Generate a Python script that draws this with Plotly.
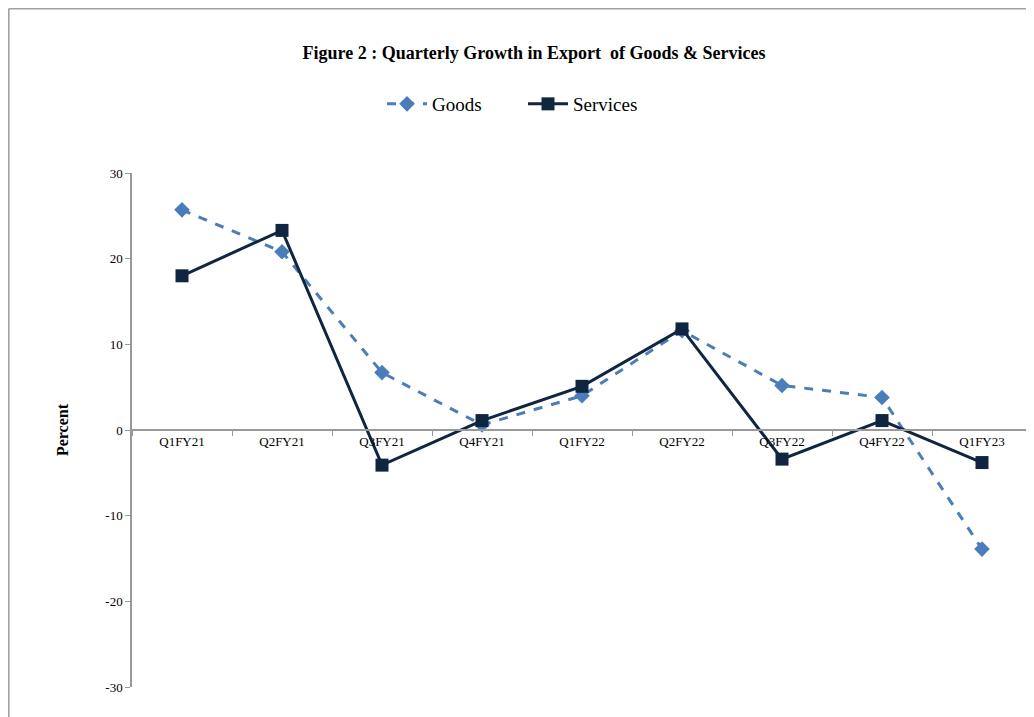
import plotly.graph_objects as go

quarters = ["Q1FY21", "Q2FY21", "Q3FY21", "Q4FY21", "Q1FY22", "Q2FY22", "Q3FY22", "Q4FY22", "Q1FY23"]
goods = [25.7, 20.8, 6.7, 0.6, 4.0, 11.6, 5.2, 3.8, -13.9]
services = [18.0, 23.3, -4.1, 1.1, 5.1, 11.8, -3.4, 1.1, -3.8]
y_ticks = [-30, -20, -10, 0, 10, 20, 30]
y_tick_labels = ["-30", "-20", "-10", "0", "10", "20", "30"]

serif = "Liberation Serif, Times New Roman, serif"

W, H = 1026, 709

fig = go.Figure()
fig.add_trace(go.Scatter(
    x=quarters, y=goods, name="Goods", mode="lines+markers",
    line=dict(color="#4A7EBB", width=3, dash="dash"),
    marker=dict(symbol="diamond", size=12, color="#4A7EBB"),
))
fig.add_trace(go.Scatter(
    x=quarters, y=services, name="Services", mode="lines+markers",
    line=dict(color="#10253F", width=3),
    marker=dict(symbol="square", size=13, color="#10253F"),
))

# figure border (left and top edges of the chart area)
ml, mr, mt, mb = 124, 2, 165, 30
pw, ph = W - ml - mr, H - mt - mb
bx = (0.8 - ml) / pw
by = 1 + (mt - 0.8) / ph
fig.add_shape(type="line", xref="paper", yref="paper", x0=bx, x1=bx, y0=-0.2, y1=by,
              line=dict(color="#A0A0A0", width=1.6))
fig.add_shape(type="line", xref="paper", yref="paper", x0=bx, x1=1.1, y0=by, y1=by,
              line=dict(color="#A0A0A0", width=1.6))

fig.update_layout(
    width=W, height=H,
    margin=dict(l=ml, r=mr, t=mt, b=mb),
    paper_bgcolor="white", plot_bgcolor="white",
    font=dict(family=serif, color="#000000"),
    title=dict(text="<b>Figure 2 : Quarterly Growth in Export  of Goods &amp; Services</b>",
               x=(534 - 8) / W, xref="container", xanchor="center",
               y=1 - (53 - 8) / H, yref="container", yanchor="middle",
               font=dict(size=18, family=serif, color="#000")),
    legend=dict(orientation="h", xref="container", x=(382 - 8) / W, xanchor="left",
                yref="container", y=1 - (104 - 8) / H, yanchor="middle",
                font=dict(size=19, family=serif), itemwidth=40,
                entrywidth=86, entrywidthmode="pixels",
                bgcolor="rgba(0,0,0,0)"),
    showlegend=True,
)
fig.update_xaxes(
    type="category", range=[-0.5, 8.5], anchor="free", position=0.5,
    showline=True, linecolor="#999999", linewidth=1.5,
    ticks="outside", ticklen=5, tickcolor="#999999", tickson="boundaries",
    showgrid=False, zeroline=False,
    tickfont=dict(size=13, family=serif, color="#000"),
)
fig.update_yaxes(
    range=[-30, 30], tickvals=y_ticks, ticktext=y_tick_labels,
    showline=True, linecolor="#999999", linewidth=1.5,
    ticks="outside", ticklen=5, tickcolor="#999999",
    showgrid=False, zeroline=False,
    tickfont=dict(size=13, family=serif, color="#000"),
    title=dict(text="<b>Percent</b>", font=dict(size=16, family=serif, color="#000"), standoff=33),
)

fig.write_html("out.html")
